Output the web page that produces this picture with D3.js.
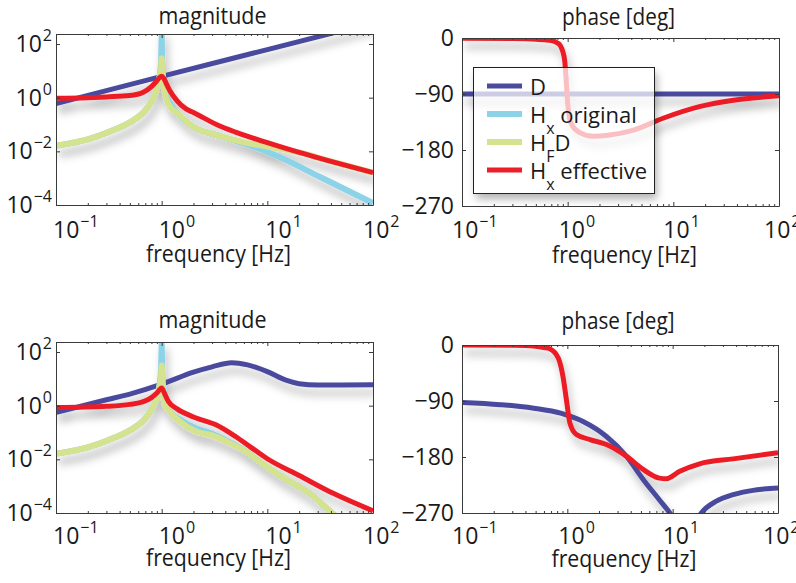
<!DOCTYPE html>
<html>
<head>
<meta charset="utf-8">
<script src="https://cdn.jsdelivr.net/npm/d3@7"></script>
<style>
  body { margin: 0; background: #fff; }
  text { font-family: "Open Sans", "Noto Sans", sans-serif; fill: #1a1a1a; white-space: pre; }
</style>
</head>
<body>
<script>
// ---------- axis limits and ticks ----------
const freqDomain = [0.1, 100];
const magDomain = [1e-4, 236];
const phaseDomain = [-270, 0];
const freqTicks = [0.1, 1, 10, 100];
const magTicks = [1e-4, 1e-2, 1, 100];
const phaseTicks = [-270, -180, -90, 0];

// ---------- series (frequency in Hz, magnitude or phase in deg) ----------
const seriesNames = ["D", "Hx original", "HF D", "Hx effective"];

// upper row
const topMagD = [[0.1, 0.6], [1, 6.2], [10, 62], [100, 620]];
const topMagHxOrig = [[0.1, 1.62e-2], [0.2, 2.8e-2], [0.32, 5.4e-2], [0.5, 0.12], [0.67, 0.28], [0.8, 0.71],
  [0.9, 2.0], [0.96, 7.1], [0.985, 22], [0.995, 79], [1, 282], [1.005, 79], [1.015, 20], [1.04, 4.2],
  [1.1, 1.32], [1.16, 0.8], [1.4, 0.27], [2, 8.0e-2], [3.3, 4.0e-2], [5.9, 2.0e-2], [10, 9.5e-3],
  [13.2, 6.0e-3], [31.6, 1.1e-3], [100, 1.17e-4]];
const topMagHFD = [[0.1, 1.62e-2], [0.2, 2.8e-2], [0.32, 5.4e-2], [0.5, 0.12], [0.67, 0.28], [0.8, 0.71],
  [0.9, 2.0], [0.96, 6.3], [0.99, 15.8], [1, 29.5], [1.01, 15.8], [1.03, 4.5], [1.07, 1.6], [1.15, 0.6],
  [1.4, 0.27], [2, 8.0e-2], [3.3, 4.0e-2], [5.9, 2.2e-2], [10, 1.5e-2], [16, 1.08e-2], [20, 9.1e-3],
  [40, 4.2e-3], [100, 1.6e-3]];
const topMagHxEff = [[0.1, 0.95], [0.2, 1.0], [0.3, 1.07], [0.5, 1.2], [0.67, 1.6], [0.8, 2.6], [0.9, 4.2],
  [0.95, 5.5], [1, 6.3], [1.05, 5.2], [1.1, 3.5], [1.2, 1.78], [1.4, 0.76], [1.7, 0.38], [2, 0.28],
  [3.3, 0.1], [5, 5.2e-2], [10, 2.1e-2], [20, 9.1e-3], [40, 4.2e-3], [100, 1.6e-3]];
const topPhaseD = [[0.1, -90], [100, -90]];
const topPhaseHxEff = [[0.1, -0.5], [0.3, -1], [0.5, -2], [0.6, -3], [0.7, -4], [0.8, -8], [0.85, -12],
  [0.9, -22], [0.94, -38], [0.97, -70], [1.0, -105], [1.04, -128], [1.1, -140], [1.3, -152], [1.75, -158],
  [2.5, -156], [4.2, -148], [8, -129], [18, -110], [37, -100], [100, -93]];

// lower row
const botMagD = [[0.1, 0.56], [0.3, 1.66], [0.5, 2.7], [1, 6.3], [2, 17.8], [3, 28], [4.6, 40], [6.5, 33],
  [10, 18.6], [15, 8.9], [20, 6.6], [30, 5.9], [50, 5.9], [100, 6.0]];
const botMagHxOrig = [[0.1, 1.62e-2], [0.2, 2.8e-2], [0.32, 5.4e-2], [0.5, 0.12], [0.67, 0.28], [0.8, 0.71],
  [0.9, 2.0], [0.96, 7.1], [0.985, 22], [0.995, 79], [1, 224], [1.005, 79], [1.01, 25], [1.04, 4.0],
  [1.1, 1.26], [1.2, 0.6], [1.5, 0.3], [2.14, 0.141], [2.9, 9.5e-2], [4.1, 5.0e-2], [5.9, 2.3e-2],
  [8.5, 8.1e-3], [12.2, 3.0e-3], [17.6, 1.26e-3], [25, 5.4e-4], [41, 1.0e-4], [50, 5.0e-5]];
const botMagHFD = [[0.1, 1.62e-2], [0.2, 2.8e-2], [0.32, 5.4e-2], [0.5, 0.12], [0.67, 0.28], [0.8, 0.71],
  [0.9, 2.0], [0.96, 6.3], [0.99, 15.8], [1, 31.6], [1.01, 15.8], [1.03, 3.5], [1.07, 1.12], [1.16, 0.69],
  [1.5, 0.25], [2.14, 0.107], [2.9, 8.1e-2], [4.1, 4.6e-2], [5.9, 2.24e-2], [8.5, 8.1e-3], [12.2, 3.0e-3],
  [17.6, 1.26e-3], [25, 5.4e-4], [41, 1.0e-4], [50, 5.0e-5]];
const botMagHxEff = [[0.1, 0.85], [0.3, 0.95], [0.5, 1.12], [0.67, 1.41], [0.8, 2.0], [0.9, 2.95], [1, 4.6],
  [1.05, 3.2], [1.15, 1.5], [1.4, 0.76], [2, 0.38], [3.3, 0.19], [5, 7.1e-2], [7, 2.8e-2], [10, 1.05e-2],
  [20, 2.5e-3], [42, 5.4e-4], [100, 1.2e-4]];
const botPhaseD = [[0.1, -92.5], [0.23, -96], [0.48, -101.6], [0.88, -110], [1.41, -123], [2.35, -147],
  [3.65, -179], [5.25, -216], [7.5, -249], [9.4, -270], [11, -288], [13, -296], [16, -288], [18.7, -270],
  [26, -251], [37.5, -240.6], [58, -233.6], [100, -230]];
const botPhaseHxEff = [[0.1, 0], [0.3, -0.5], [0.5, -2], [0.6, -4], [0.68, -6], [0.82, -21], [0.91, -51],
  [0.98, -88], [1.06, -126], [1.22, -144], [1.64, -152], [2.35, -160], [3.65, -179], [5.25, -200],
  [7.5, -214], [8.7, -215], [11.7, -203], [18, -191], [37.5, -183], [100, -173]];

// ---------- styling ----------
const seriesColor = ["#4a4a9e", "#8dd3e7", "#d5e28f", "#ec1f26"];
const seriesWidth = [5, 6, 6, 5];
const axisColor = "#3a3a3a";

// legend labels as runs of [text, role]
const legendLabels = [
  [["D", "n"]],
  [["H", "n"], ["x", "sub"], [" original", "n"]],
  [["H", "n"], ["F", "sub"], ["D", "n"]],
  [["H", "n"], ["x", "sub"], [" effective", "n"]]
];

const panels = [
  { kind: "mag", box: [56, 34, 373, 205], title: "magnitude", titleY: 24, tickDy: 33, labelDy: 57,
    tickDx: [-3, -3, -2, -10], series: [topMagD, topMagHxOrig, topMagHFD, topMagHxEff] },
  { kind: "phase", box: [462, 38, 779, 206], title: "phase [deg]", titleY: 25, tickDy: 32, labelDy: 57,
    tickDx: [-10, -9, -10, -15], series: [topPhaseD, null, null, topPhaseHxEff], legend: true },
  { kind: "mag", box: [56, 342, 373, 513], title: "magnitude", titleY: 328, tickDy: 31, labelDy: 53,
    tickDx: [-3, -3, -2, -10], series: [botMagD, botMagHxOrig, botMagHFD, botMagHxEff] },
  { kind: "phase", box: [462, 345, 778, 513], title: "phase [deg]", titleY: 329, tickDy: 31, labelDy: 54,
    tickDx: [-10, -9, -10, -15], series: [botPhaseD, null, null, botPhaseHxEff] }
];

const W = 796, H = 583;
const svg = d3.select("body").append("svg").attr("width", W).attr("height", H);
svg.append("rect").attr("width", W).attr("height", H).attr("fill", "#fff");
const defs = svg.append("defs");

// soft drop shadow under the curves
const shadow = defs.append("filter").attr("id", "shadow")
  .attr("x", "-20%").attr("y", "-20%").attr("width", "140%").attr("height", "150%");
shadow.append("feDropShadow").attr("dx", 3).attr("dy", 8).attr("stdDeviation", 4)
  .attr("flood-color", "#000").attr("flood-opacity", 0.26);
const blur = defs.append("filter").attr("id", "blur")
  .attr("x", "-30%").attr("y", "-30%").attr("width", "160%").attr("height", "160%");
blur.append("feGaussianBlur").attr("stdDeviation", 4);

const minus = s => String(s).replace("-", "\u2212");
const isDecade = v => Math.abs(Math.log10(v) - Math.round(Math.log10(v))) < 1e-6;

panels.forEach((p, idx) => {
  const [x0, y0, x1, y1] = p.box;
  const x = d3.scaleLog().domain(freqDomain).range([x0, x1]);
  const y = p.kind === "mag"
    ? d3.scaleLog().domain(magDomain).range([y1, y0])
    : d3.scaleLinear().domain(phaseDomain).range([y1, y0]);
  const yTicks = p.kind === "mag" ? magTicks : phaseTicks;
  const g = svg.append("g");

  const clipId = "clip" + idx;
  defs.append("clipPath").attr("id", clipId).append("rect")
    .attr("x", x0).attr("y", y0).attr("width", x1 - x0).attr("height", y1 - y0);

  // curves
  const line = d3.line().x(d => x(d[0])).y(d => y(d[1])).curve(d3.curveMonotoneX);
  const plot = g.append("g").attr("clip-path", `url(#${clipId})`)
    .append("g").attr("filter", "url(#shadow)");
  p.series.forEach((s, i) => {
    if (!s) return;
    plot.append("path").datum(s).attr("d", line).attr("fill", "none")
      .attr("stroke", seriesColor[i]).attr("stroke-width", seriesWidth[i])
      .attr("stroke-linejoin", "round").attr("stroke-linecap", "butt");
  });

  // axes box with inward ticks
  const minor = x.ticks().filter(v => !isDecade(v));
  const axes = [
    [d3.axisBottom(x).tickValues(freqTicks).tickSize(-4), y1, true],
    [d3.axisBottom(x).tickValues(minor).tickSize(-2), y1, false],
    [d3.axisTop(x).tickValues(freqTicks).tickSize(-4), y0, true],
    [d3.axisTop(x).tickValues(minor).tickSize(-2), y0, false]
  ];
  axes.forEach(([ax, ty, keepDomain]) => {
    const a = g.append("g").attr("transform", `translate(0,${ty})`)
      .call(ax.tickSizeOuter(0).tickFormat(""));
    if (!keepDomain) a.select(".domain").remove();
  });
  g.append("g").attr("transform", `translate(${x0},0)`)
    .call(d3.axisLeft(y).tickValues(yTicks).tickSize(-4).tickSizeOuter(0).tickFormat(""));
  g.append("g").attr("transform", `translate(${x1},0)`)
    .call(d3.axisRight(y).tickValues(yTicks).tickSize(-4).tickSizeOuter(0).tickFormat(""));
  g.selectAll(".domain, .tick line").attr("stroke", axisColor).attr("stroke-width", 1);

  // x tick labels: 10 with exponent
  freqTicks.forEach((t, i) => {
    const tx = g.append("text").attr("x", x(t) + p.tickDx[i]).attr("y", y1 + p.tickDy)
      .attr("font-size", 23);
    tx.append("tspan").text("10");
    tx.append("tspan").attr("dy", -11).attr("dx", 1).attr("font-size", 16)
      .text(minus(Math.round(Math.log10(t))));
  });

  // y tick labels
  yTicks.forEach(t => {
    if (p.kind === "mag") {
      const ty = g.append("text").attr("x", x0 - 4).attr("y", y(t) + 8)
        .attr("text-anchor", "end").attr("font-size", 23);
      ty.append("tspan").text("10");
      ty.append("tspan").attr("dy", -11).attr("dx", 1).attr("font-size", 16)
        .text(minus(Math.round(Math.log10(t))));
    } else {
      g.append("text").attr("x", x0 - 8).attr("y", y(t) + 8)
        .attr("text-anchor", "end").attr("font-size", 23).text(d3.format("d")(t));
    }
  });

  // title and axis label
  const cx = (x0 + x1) / 2;
  g.append("text").attr("x", cx - 2).attr("y", p.titleY).attr("text-anchor", "middle")
    .attr("font-size", 23).attr("textLength", p.kind === "mag" ? 108 : 113)
    .attr("lengthAdjust", "spacingAndGlyphs").text(p.title);
  g.append("text").attr("x", cx + 4).attr("y", y1 + p.labelDy).attr("text-anchor", "middle")
    .attr("font-size", 23).attr("textLength", 145)
    .attr("lengthAdjust", "spacingAndGlyphs").text("frequency [Hz]");

  // legend
  if (p.legend) {
    const lx = 473, ly = 67, lw = 181, lh = 126;
    const mask = defs.append("mask").attr("id", "legendMask");
    mask.append("rect").attr("x", 0).attr("y", 0).attr("width", W).attr("height", H).attr("fill", "#fff");
    mask.append("rect").attr("x", lx).attr("y", ly).attr("width", lw).attr("height", lh).attr("fill", "#000");
    const lg = g.append("g");
    lg.append("g").attr("mask", "url(#legendMask)")
      .append("rect").attr("x", lx + 3).attr("y", ly + 6).attr("width", lw).attr("height", lh)
      .attr("fill", "#000").attr("opacity", 0.3).attr("filter", "url(#blur)");
    lg.append("rect").attr("x", lx + 0.5).attr("y", ly + 0.5).attr("width", lw).attr("height", lh)
      .attr("fill", "#fff").attr("fill-opacity", 0.72).attr("stroke", "#222").attr("stroke-width", 1);
    const rowY = d3.scalePoint().domain(seriesNames).range([86, 170]);
    seriesNames.forEach((name, i) => {
      const ry = rowY(name);
      lg.append("line").attr("x1", 487).attr("x2", 522).attr("y1", ry).attr("y2", ry)
        .attr("stroke", seriesColor[i]).attr("stroke-width", seriesWidth[i]);
      const t = lg.append("text").attr("x", 530).attr("y", ry + 9).attr("font-size", 22);
      let shifted = false;
      legendLabels[i].forEach(([txt, role]) => {
        const sp = t.append("tspan").text(txt);
        if (role === "sub") {
          sp.attr("dy", 11).attr("font-size", 16);
          shifted = true;
        } else if (shifted) {
          sp.attr("dy", -11);
          shifted = false;
        }
      });
    });
  }
});
</script>
</body>
</html>
